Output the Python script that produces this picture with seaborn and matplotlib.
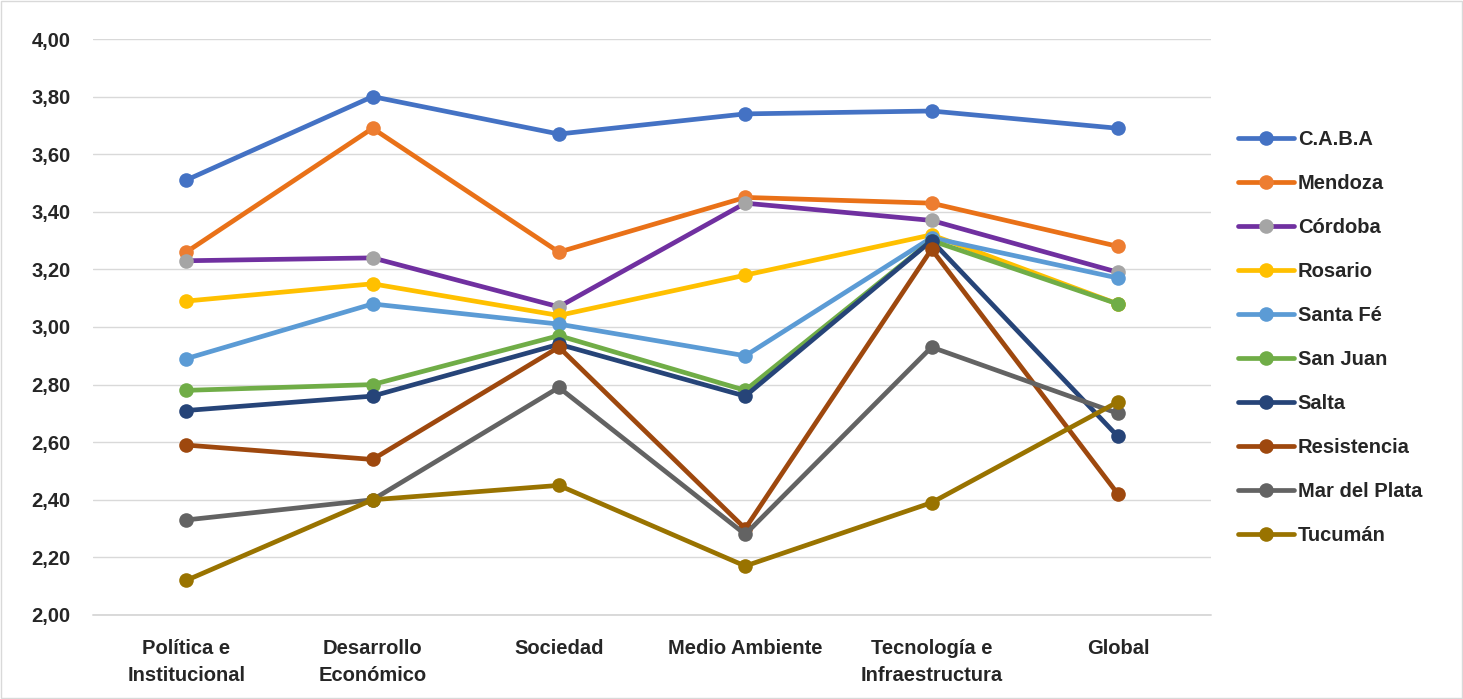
import numpy as np
import pandas as pd
import matplotlib
matplotlib.use("Agg")
import matplotlib.pyplot as plt
import seaborn as sns
from matplotlib.ticker import FuncFormatter

categories = ["Política e\nInstitucional", "Desarrollo\nEconómico", "Sociedad",
              "Medio Ambiente", "Tecnología e\nInfraestructura", "Global"]

cities = ["C.A.B.A", "Mendoza", "Córdoba", "Rosario", "Santa Fé",
          "San Juan", "Salta", "Resistencia", "Mar del Plata", "Tucumán"]

caba = [3.51, 3.80, 3.67, 3.74, 3.75, 3.69]
mendoza = [3.26, 3.69, 3.26, 3.45, 3.43, 3.28]
cordoba = [3.23, 3.24, 3.07, 3.43, 3.37, 3.19]
rosario = [3.09, 3.15, 3.04, 3.18, 3.32, 3.08]
santa_fe = [2.89, 3.08, 3.01, 2.90, 3.31, 3.17]
san_juan = [2.78, 2.80, 2.97, 2.78, 3.30, 3.08]
salta = [2.71, 2.76, 2.94, 2.76, 3.30, 2.62]
resistencia = [2.59, 2.54, 2.93, 2.30, 3.27, 2.42]
mar_del_plata = [2.33, 2.40, 2.79, 2.28, 2.93, 2.70]
tucuman = [2.12, 2.40, 2.45, 2.17, 2.39, 2.74]

series = [caba, mendoza, cordoba, rosario, santa_fe,
          san_juan, salta, resistencia, mar_del_plata, tucuman]

line_colors = ["#4472C4", "#E97118", "#7030A0", "#FFC000", "#5B9BD5",
               "#70AD47", "#264478", "#9E480E", "#636363", "#997300"]
marker_colors = ["#4472C4", "#ED7D31", "#A5A5A5", "#FFC000", "#5B9BD5",
                 "#70AD47", "#264478", "#9E480E", "#636363", "#997300"]

rows = []
for city, vals in zip(cities, series):
    for cat, v in zip(categories, vals):
        rows.append({"ciudad": city, "dimension": cat, "valor": v})
df = pd.DataFrame(rows)

sns.set_style("white")
plt.rcParams["font.family"] = ["Liberation Sans", "DejaVu Sans"]
plt.rcParams["font.weight"] = "bold"

fig = plt.figure(figsize=(14.63, 6.99), dpi=100)
ax = fig.add_axes([0.0636, 0.1202, 0.7642, 0.824])

for city, lc, mc in zip(cities, line_colors, marker_colors):
    sub = df[df["ciudad"] == city]
    sns.lineplot(data=sub, x="dimension", y="valor", ax=ax, sort=False,
                 color=lc, linewidth=3.4, marker="o", markersize=10.5,
                 markerfacecolor=mc, markeredgecolor=mc, markeredgewidth=0,
                 label=city, zorder=3)

ax.set_xlim(-0.5, len(categories) - 0.5)
ax.set_ylim(2.0, 4.0)
ax.set_yticks(np.arange(2.0, 4.01, 0.2))
ax.yaxis.set_major_formatter(FuncFormatter(lambda v, p: f"{v:.2f}".replace(".", ",")))
ax.grid(axis="y", color="#D9D9D9", linewidth=1.0)
ax.grid(axis="x", visible=False)
ax.axhline(2.0, color="#D9D9D9", linewidth=1.4, clip_on=False, zorder=1)
ax.set_axisbelow(True)
for s in ax.spines.values():
    s.set_visible(False)
ax.tick_params(axis="both", length=0, labelsize=14.5)
ax.tick_params(axis="y", pad=16)
ax.tick_params(axis="x", pad=17)
for lab in ax.get_xticklabels() + ax.get_yticklabels():
    lab.set_fontweight("bold")
for lab in ax.get_xticklabels():
    lab.set_linespacing(1.55)
ax.set_xlabel("")
ax.set_ylabel("")

leg = ax.legend(loc="upper left", bbox_to_anchor=(0.834, 0.84),
                bbox_transform=fig.transFigure, frameon=False,
                handlelength=2.75, handletextpad=0.2, labelspacing=1.24,
                prop={"weight": "bold", "size": 14.5})

fig.patches.append(plt.Rectangle((0.001, 0.001), 0.998, 0.998, transform=fig.transFigure,
                                 fill=False, edgecolor="#D9D9D9", linewidth=1.0))

fig.savefig("out.png", dpi=100)
